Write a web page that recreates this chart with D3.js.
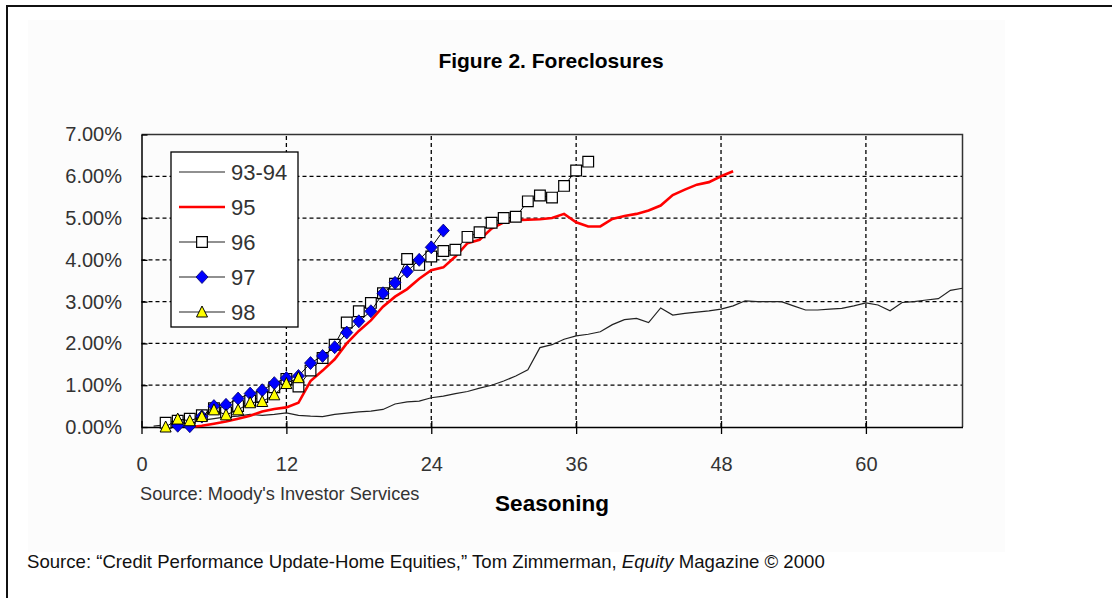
<!DOCTYPE html>
<html>
<head>
<meta charset="utf-8">
<script src="https://cdn.jsdelivr.net/npm/d3@7"></script>
<style>
  body { margin: 0; background: #fff; }
  text { font-family: "Liberation Sans", Arial, sans-serif; }
</style>
</head>
<body>
<div id="chart"></div>
<script>
// months of seasoning, one array per vintage
const months9394 = d3.range(1, 69);
const values9394 = [0.02, 0.05, 0.08, 0.12, 0.16, 0.2, 0.24, 0.26, 0.3, 0.28, 0.3, 0.34,
  0.28, 0.26, 0.25, 0.3, 0.33, 0.36, 0.38, 0.42, 0.55, 0.6, 0.62, 0.7, 0.74, 0.8, 0.85, 0.93,
  1.0, 1.1, 1.22, 1.37, 1.9, 1.97, 2.1, 2.18, 2.22, 2.28, 2.45, 2.57, 2.6, 2.5, 2.85, 2.68,
  2.72, 2.75, 2.78, 2.82, 2.9, 3.02, 3.0, 3.0, 3.0, 2.9, 2.8, 2.8, 2.82, 2.84, 2.9, 2.97,
  2.92, 2.78, 2.98, 3.0, 3.04, 3.07, 3.27, 3.32];

const months95 = d3.range(4, 50);
const values95 = [0.0, 0.03, 0.08, 0.13, 0.2, 0.27, 0.37, 0.43, 0.47, 0.58, 1.1, 1.35, 1.62,
  2.0, 2.3, 2.55, 2.88, 3.12, 3.3, 3.55, 3.75, 3.82, 4.08, 4.4, 4.48, 4.75, 4.9, 4.95, 4.96,
  4.97, 5.0, 5.1, 4.9, 4.8, 4.8, 4.98, 5.05, 5.1, 5.18, 5.3, 5.55, 5.68, 5.8, 5.86, 6.0, 6.12];

const months96 = d3.range(2, 38);
const values96 = [0.1, 0.15, 0.2, 0.28, 0.45, 0.35, 0.5, 0.63, 0.72, 0.95, 1.15, 0.97, 1.35,
  1.65, 1.97, 2.5, 2.77, 2.97, 3.2, 3.43, 4.02, 3.88, 4.08, 4.21, 4.24, 4.55, 4.66, 4.89, 5.0,
  5.03, 5.4, 5.54, 5.49, 5.77, 6.14, 6.35];

const months97 = d3.range(3, 26);
const values97 = [0.03, 0.02, 0.25, 0.5, 0.53, 0.68, 0.8, 0.88, 1.05, 1.17, 1.22, 1.53, 1.7,
  1.91, 2.26, 2.53, 2.77, 3.2, 3.45, 3.72, 4.0, 4.3, 4.7];

const months98 = d3.range(2, 14);
const values98 = [0.0, 0.19, 0.15, 0.25, 0.41, 0.29, 0.41, 0.58, 0.61, 0.77, 1.04, 1.18];

const xTicks = [0, 12, 24, 36, 48, 60];
const yTicks = [0, 1, 2, 3, 4, 5, 6, 7];

let width = 1112, height = 598;

let svg = d3.select('#chart')
  .append('svg')
  .attr('width', width)
  .attr('height', height);

// outer frame and chart panel
svg.append('rect')
  .attr('x', 7).attr('y', 6)
  .attr('width', 1200).attr('height', 700)
  .attr('fill', 'none')
  .attr('stroke', '#111')
  .attr('stroke-width', 2);

svg.append('rect')
  .attr('x', 28).attr('y', 20)
  .attr('width', 977).attr('height', 532)
  .attr('fill', '#fcfcfc');

let xscale = d3.scaleLinear()
  .domain([0, 68])
  .range([141.5, 962.5]);

let yscale = d3.scaleLinear()
  .domain([0, 7])
  .range([427, 134.5]);

// grid
svg.append('g')
  .selectAll('line')
  .data(yTicks.filter(d => d > 0 && d < 7))
  .join('line')
  .attr('x1', xscale(0)).attr('x2', xscale(68))
  .attr('y1', d => yscale(d)).attr('y2', d => yscale(d))
  .attr('stroke', '#000')
  .attr('stroke-width', 1.3)
  .attr('stroke-dasharray', '4,3');

svg.append('g')
  .selectAll('line')
  .data(xTicks.filter(d => d > 0))
  .join('line')
  .attr('x1', d => xscale(d)).attr('x2', d => xscale(d))
  .attr('y1', yscale(0)).attr('y2', yscale(7))
  .attr('stroke', '#000')
  .attr('stroke-width', 1.3)
  .attr('stroke-dasharray', '4,3');

// plot frame top/right
svg.append('path')
  .attr('d', `M${xscale(0)},${yscale(7)}H${xscale(68)}V${yscale(0)}`)
  .attr('fill', 'none')
  .attr('stroke', '#333')
  .attr('stroke-width', 1.5);

// axes
let yAxis = svg.append('g')
  .attr('transform', `translate(${xscale(0)},0)`)
  .call(d3.axisLeft(yscale).tickValues(yTicks).tickSizeInner(6).tickSizeOuter(0)
    .tickPadding(13.5).tickFormat(d => d.toFixed(2) + '%'));
yAxis.selectAll('.tick line').attr('x2', 6);

let xAxis = svg.append('g')
  .attr('transform', `translate(0,${yscale(0)})`)
  .call(d3.axisBottom(xscale).tickValues(xTicks).tickSizeInner(7).tickSizeOuter(0)
    .tickPadding(23));
xAxis.selectAll('.tick line').attr('y1', -6);

svg.selectAll('.domain').attr('stroke', '#000').attr('stroke-width', 1.5);
svg.selectAll('.tick line').attr('stroke', '#000').attr('stroke-width', 1.3);
svg.selectAll('.tick text')
  .style('font-family', '"Liberation Sans", Arial, sans-serif')
  .style('font-size', '20px')
  .attr('fill', '#333');

// series lines
function pts(ms, vs) { return ms.map((m, i) => ({m: m, v: vs[i]})); }
const line = d3.line()
  .x(d => xscale(d.m))
  .y(d => yscale(d.v));

const s9394 = pts(months9394, values9394);
const s95 = pts(months95, values95);
const s96 = pts(months96, values96);
const s97 = pts(months97, values97);
const s98 = pts(months98, values98);

svg.append('path').datum(s9394)
  .attr('fill', 'none').attr('stroke', '#222').attr('stroke-width', 1.2)
  .attr('d', line);

svg.append('path').datum(s95)
  .attr('fill', 'none').attr('stroke', '#ff0000').attr('stroke-width', 2.6)
  .attr('d', line);

const square = d3.symbol().type(d3.symbolSquare).size(115);
const diamond = 'M0,-6.5L6,0L0,6.5L-6,0Z';
const triangle = 'M0,-6L5.5,5L-5.5,5Z';

function markerSeries(data, shape, fill, stroke, sw) {
  svg.append('path').datum(data)
    .attr('fill', 'none').attr('stroke', '#000').attr('stroke-width', 1)
    .attr('d', line);
  svg.append('g')
    .selectAll('path')
    .data(data)
    .join('path')
    .attr('transform', d => `translate(${xscale(d.m)},${yscale(d.v)})`)
    .attr('d', shape)
    .attr('fill', fill)
    .attr('stroke', stroke)
    .attr('stroke-width', sw);
}

markerSeries(s96, square(), '#fff', '#000', 1.2);
markerSeries(s97, diamond, '#0000ff', '#000066', 0.8);
markerSeries(s98, triangle, '#ffff00', '#000', 1);

// legend
const legendNames = ['93-94', '95', '96', '97', '98'];
let legend = svg.append('g');
legend.append('rect')
  .attr('x', 171).attr('y', 152)
  .attr('width', 127).attr('height', 175)
  .attr('fill', '#fff')
  .attr('stroke', '#000')
  .attr('stroke-width', 1.3);

legendNames.forEach(function(name, i) {
  let y = 172 + i * 35;
  legend.append('line')
    .attr('x1', 179).attr('x2', 225)
    .attr('y1', y).attr('y2', y)
    .attr('stroke', i == 1 ? '#ff0000' : '#222')
    .attr('stroke-width', i == 1 ? 2.6 : 1.2);
  if (i == 2) legend.append('path').attr('transform', `translate(202,${y})`)
    .attr('d', square()).attr('fill', '#fff').attr('stroke', '#000').attr('stroke-width', 1.2);
  if (i == 3) legend.append('path').attr('transform', `translate(202,${y})`)
    .attr('d', diamond).attr('fill', '#0000ff').attr('stroke', '#000066').attr('stroke-width', 0.8);
  if (i == 4) legend.append('path').attr('transform', `translate(202,${y})`)
    .attr('d', triangle).attr('fill', '#ffff00').attr('stroke', '#000').attr('stroke-width', 1);
  legend.append('text')
    .attr('x', 231).attr('y', y + 7.5)
    .style('font-size', '22px')
    .attr('fill', '#333')
    .text(name);
});

// titles
svg.append('text')
  .attr('x', 551).attr('y', 68)
  .attr('text-anchor', 'middle')
  .style('font-size', '21px')
  .style('font-weight', 'bold')
  .text('Figure 2. Foreclosures');

svg.append('text')
  .attr('x', 552).attr('y', 511)
  .attr('text-anchor', 'middle')
  .style('font-size', '22.5px')
  .style('font-weight', 'bold')
  .text('Seasoning');

svg.append('text')
  .attr('x', 140).attr('y', 500)
  .style('font-size', '18.2px')
  .attr('fill', '#333')
  .text("Source: Moody's Investor Services");

let caption = svg.append('text')
  .attr('x', 27).attr('y', 568)
  .style('font-size', '18.6px')
  .attr('fill', '#111');
caption.append('tspan').text('Source: \u201cCredit Performance Update-Home Equities,\u201d Tom Zimmerman, ');
caption.append('tspan').style('font-style', 'italic').text('Equity');
caption.append('tspan').text(' Magazine \u00a9 2000');
</script>
</body>
</html>
